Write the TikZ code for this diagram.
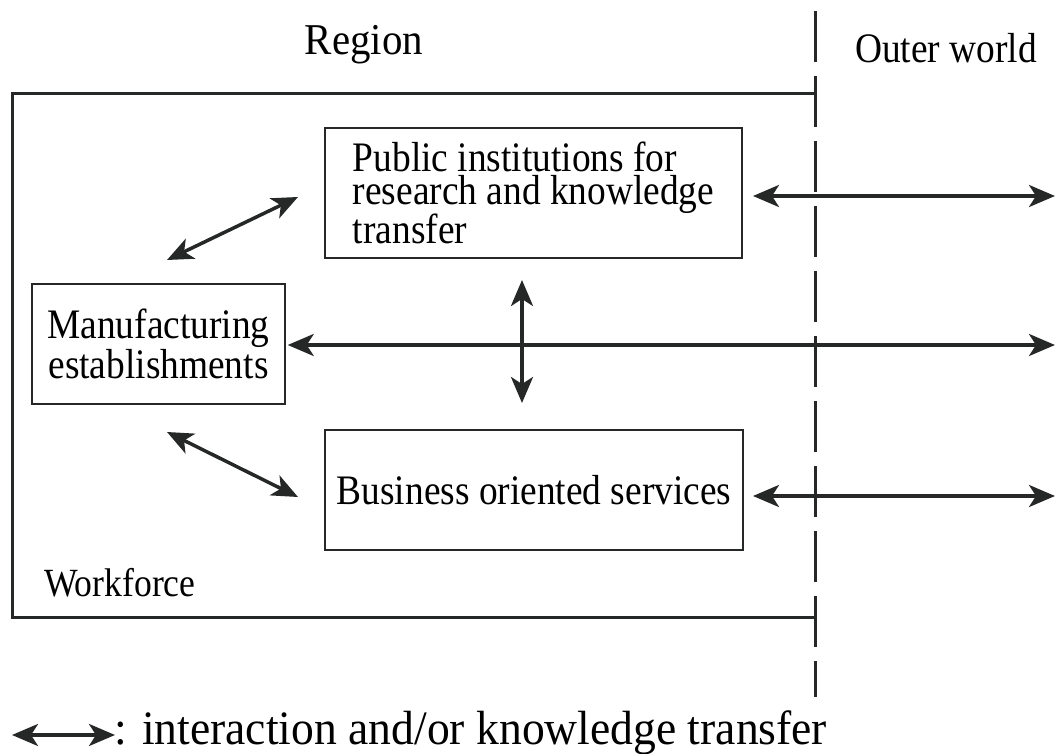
\documentclass[tikz,border=0pt]{standalone}
\usepackage{fontspec}
\setmainfont[FakeStretch=0.89]{Liberation Serif}
\newfontfamily\regionfont[FakeStretch=0.93]{Liberation Serif}
\newfontfamily\legendfont[FakeStretch=0.95]{Liberation Serif}
\usetikzlibrary{arrows.meta}
\definecolor{ink}{RGB}{38,40,40}
\begin{document}
\begin{tikzpicture}[x=1pt,y=-1pt,
  txt/.style={font=\fontsize{42}{33}\selectfont, text=black},
  box/.style={draw=ink, line width=1.5pt, fill=white, inner sep=0pt, txt},
  frame/.style={draw=ink, line width=3pt},
  arr/.style={draw=ink, line width=3.5pt, {Stealth[length=26pt,width=22pt,inset=7pt]}-{Stealth[length=26pt,width=22pt,inset=7pt]}}
]
\useasboundingbox (0,0) rectangle (1058,754);
% region frame
\draw[frame] (815,94) -- (12,94) -- (12,617) -- (815,617);
% dashed boundary
\coordinate (dt) at (815,11);
\coordinate (db) at (815,697);
\draw[draw=ink, line width=3pt, dash pattern=on 51pt off 14pt] (dt) -- (db);
% headings
\node[txt, font=\regionfont\fontsize{44}{44}\selectfont] (region) at (364,45) {Region};
\node[txt] (outer) at (946,48) {Outer world};
% boxes
\node[box, minimum width=417pt, minimum height=130pt, align=left] (pub) at (533.5,193)
  {Public institutions for\\research and knowledge\\transfer};
\node[box, minimum width=253pt, minimum height=120pt, align=center] (man) at (158.5,344)
  {Manufacturing\\establishments};
\node[box, minimum width=418pt, minimum height=120pt] (bus) at (534,490)
  {Business oriented services};
\node[txt, anchor=west, inner sep=0pt, font=\fontsize{40}{40}\selectfont] (work) at (44,583) {Workforce};
% arrows
\coordinate (d1a) at (167,260); \coordinate (d1b) at (298,197);
\coordinate (d2a) at (167,432); \coordinate (d2b) at (298,497);
\coordinate (vt) at (522,280); \coordinate (vb) at (522,403);
\coordinate (mr) at (1055,345);
\coordinate (pl) at (753,196); \coordinate (pr) at (1055,196);
\coordinate (bl) at (753,496); \coordinate (br) at (1055,496);
\draw[arr] (d1a) -- (d1b);
\draw[arr] (d2a) -- (d2b);
\draw[arr] (vt) -- (vb);
\draw[arr] ([xshift=2pt]man.east |- mr) -- (mr);
\draw[arr] (pl) -- (pr);
\draw[arr] (bl) -- (br);
% legend
\coordinate (la) at (12,735); \coordinate (lb) at (115,735);
\draw[arr] (la) -- (lb);
\node[txt, font=\legendfont\fontsize{48}{48}\selectfont, anchor=west, inner sep=0pt] (legend) at (114,733) {: interaction and/or knowledge transfer};
\end{tikzpicture}
\end{document}
